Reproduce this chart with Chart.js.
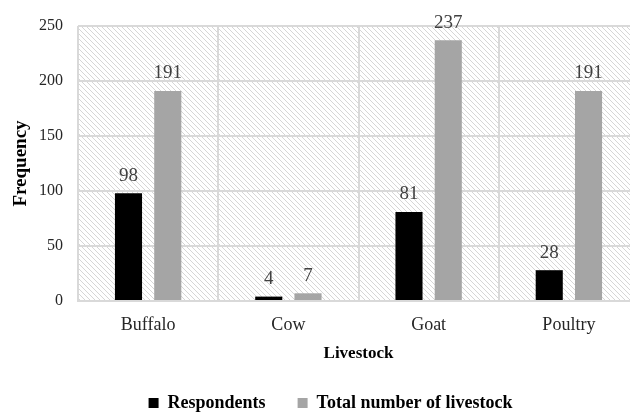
<!DOCTYPE html>
<html>
<head>
<meta charset="utf-8">
<script src="https://cdn.jsdelivr.net/npm/chart.js@4/dist/chart.umd.min.js"></script>
<style>
  html, body { margin: 0; padding: 0; background: #fff; overflow: hidden; }
  #wrap { width: 640px; height: 412px; }
</style>
</head>
<body>
<div id="wrap"><canvas id="chart_livestock"></canvas></div>
<script>
var categories = ['Buffalo', 'Cow', 'Goat', 'Poultry'];
var respondents = [98, 4, 81, 28];
var totalLivestock = [191, 7, 237, 191];
var yTicks = [0, 50, 100, 150, 200, 250];

var serif = '"Liberation Serif", "Times New Roman", serif';

// diagonal hatch for the plot background
function makeHatch(ctx) {
  var c = document.createElement('canvas');
  c.width = 5; c.height = 5;
  var g = c.getContext('2d');
  g.fillStyle = '#fff';
  g.fillRect(0, 0, 5, 5);
  g.strokeStyle = '#d6d6d6';
  g.lineWidth = 1;
  g.beginPath();
  g.moveTo(-1, -1); g.lineTo(6, 6);
  g.moveTo(-1, 4); g.lineTo(1, 6);
  g.moveTo(4, -1); g.lineTo(6, 1);
  g.stroke();
  return ctx.createPattern(c, 'repeat');
}

var hatchPlugin = {
  id: 'hatch',
  afterLayout: function(chart) {
    // legend sits a bit right of the canvas centre in the original
    chart.legend.left += 11;
    chart.legend.right += 11;
  },
  beforeDraw: function(chart) {
    var a = chart.chartArea, ctx = chart.ctx;
    ctx.save();
    ctx.fillStyle = makeHatch(ctx);
    ctx.fillRect(a.left, a.top, a.right - a.left, a.bottom - a.top);
    ctx.restore();
  }
};

var valueLabels = {
  id: 'valueLabels',
  afterDatasetsDraw: function(chart) {
    var ctx = chart.ctx;
    ctx.save();
    ctx.font = '19px ' + serif;
    ctx.fillStyle = '#404040';
    ctx.textAlign = 'center';
    ctx.textBaseline = 'bottom';
    chart.data.datasets.forEach(function(ds, i) {
      chart.getDatasetMeta(i).data.forEach(function(bar, j) {
        ctx.fillText(ds.data[j], bar.x, bar.y - 8);
      });
    });
    ctx.restore();
  }
};

var ctx = document.getElementById('chart_livestock');
var myChart = new Chart(ctx, {
  type: 'bar',
  data: {
    labels: categories,
    datasets: [{
      label: 'Respondents',
      data: respondents,
      backgroundColor: '#000000',
      categoryPercentage: 0.56,
      barPercentage: 0.69
    }, {
      label: 'Total number of livestock',
      data: totalLivestock,
      backgroundColor: '#a5a5a5',
      categoryPercentage: 0.56,
      barPercentage: 0.69
    }]
  },
  options: {
    responsive: true,
    maintainAspectRatio: false,
    animation: false,
    layout: { padding: { top: 26, left: 0, right: 1, bottom: -10 } },
    plugins: {
      legend: {
        position: 'bottom',
        labels: {
          font: { family: serif, size: 18, weight: 'bold' },
          color: '#000',
          boxWidth: 10,
          boxHeight: 10,
          padding: 32
        }
      },
      tooltip: { enabled: false }
    },
    scales: {
      x: {
        grid: { color: '#d9d9d9', lineWidth: 2, drawTicks: false },
        border: { color: '#d9d9d9', width: 2 },
        ticks: { font: { family: serif, size: 18 }, color: '#262626', padding: 13 },
        title: {
          display: true, text: 'Livestock', color: '#000',
          font: { family: serif, size: 17, weight: 'bold' },
          padding: { top: 4, bottom: -2 }
        },
        afterFit: function(s) { s.height = 61; }
      },
      y: {
        min: 0, max: 250,
        afterBuildTicks: function(s) { s.ticks = yTicks.map(function(v) { return { value: v }; }); },
        grid: { color: '#d9d9d9', lineWidth: 2, drawTicks: false },
        border: { display: false },
        ticks: { font: { family: serif, size: 16 }, color: '#262626', padding: 15 },
        title: {
          display: true, text: 'Frequency', color: '#000',
          font: { family: serif, size: 19, weight: 'bold' },
          padding: { top: 10, bottom: 0 }
        },
        afterFit: function(s) { s.width = 78; }
      }
    }
  },
  plugins: [hatchPlugin, valueLabels]
});
</script>
</body>
</html>
